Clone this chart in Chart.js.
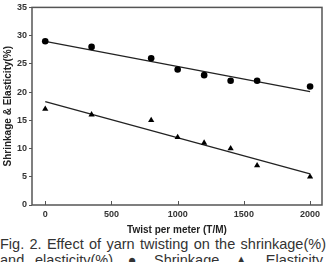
<!DOCTYPE html>
<html>
<head>
<meta charset="utf-8">
<script src="https://cdn.jsdelivr.net/npm/chart.js@4"></script>
<style>
    html, body { margin: 0; padding: 0; background: #fff; overflow: hidden; }
    #wrap { position: relative; width: 326px; height: 238px; }
    .cap {
        width: 326px;
        font-family: 'Liberation Sans', Arial, sans-serif;
        font-size: 14.5px;
        color: #333;
        line-height: 16px;
        text-align: justify;
        text-align-last: justify;
        white-space: nowrap;
    }
</style>
</head>
<body>
<div id="wrap"><canvas id="chart" width="326" height="238"></canvas></div>
<div class="cap" style="margin-top:-2px">Fig.&nbsp;2. Effect of yarn twisting on the shrinkage(%)</div>
<div class="cap">and elasticity(%). &#9679; Shrinkage, &#9650; Elasticity.</div>
<script>
// dane
var twist = [0, 350, 800, 1000, 1200, 1400, 1600, 2000];
var shrinkage = [29, 28, 26, 24, 23, 22, 22, 21];
var elasticity = [17, 16, 15, 12, 11, 10, 7, 5];
// linie trendu (końce)
var fitX = [0, 2000];
var shrinkFit = [29, 20.1];
var elastFit = [18.3, 5.5];
var xTicks = [0, 500, 1000, 1500, 2000];
var yTicks = [0, 5, 10, 15, 20, 25, 30, 35];

function pts(xs, ys) {
    var out = [];
    for (var i = 0; i < xs.length; i++) {
        out.push({ x: xs[i], y: ys[i] });
    }
    return out;
}

var frame = {
    id: 'frame',
    afterDatasetsDraw: function (chart) {
        var a = chart.chartArea;
        var ctx = chart.ctx;
        var xs = chart.scales.x;
        ctx.save();
        ctx.strokeStyle = '#555';
        ctx.lineWidth = 1.5;
        ctx.strokeRect(a.left, a.top, a.right - a.left, a.bottom - a.top);
        ctx.lineWidth = 1;
        ctx.beginPath();
        xTicks.forEach(function (v) {
            var px = Math.round(xs.getPixelForValue(v)) + 0.5;
            ctx.moveTo(px, a.bottom);
            ctx.lineTo(px, a.bottom - 4);
        });
        ctx.stroke();
        ctx.restore();
    }
};

var FAM = "'Liberation Sans', Arial, sans-serif";
var tickFont = { family: FAM, size: 9, weight: 'bold' };
var titleFont = { family: FAM, size: 10, weight: 'bold' };

new Chart(document.getElementById('chart').getContext('2d'), {
    type: 'scatter',
    data: {
        datasets: [
            {
                label: 'Shrinkage',
                data: pts(twist, shrinkage),
                pointStyle: 'circle',
                pointRadius: 3.3,
                backgroundColor: '#000',
                borderColor: '#000',
                borderWidth: 0
            },
            {
                label: 'Elasticity',
                data: pts(twist, elasticity),
                pointStyle: 'triangle',
                pointRadius: 3.6,
                backgroundColor: '#000',
                borderColor: '#000',
                borderWidth: 0
            },
            {
                type: 'line',
                data: pts(fitX, shrinkFit),
                borderColor: '#222',
                borderWidth: 1.3,
                pointRadius: 0,
                fill: false
            },
            {
                type: 'line',
                data: pts(fitX, elastFit),
                borderColor: '#222',
                borderWidth: 1.3,
                pointRadius: 0,
                fill: false
            }
        ]
    },
    options: {
        responsive: false,
        animation: false,
        layout: { padding: { left: 0, right: 3, top: 6, bottom: 0 } },
        plugins: {
            legend: { display: false },
            tooltip: { enabled: false }
        },
        scales: {
            x: {
                type: 'linear',
                min: -100,
                max: 2090,
                afterBuildTicks: function (s) {
                    s.ticks = xTicks.map(function (v) { return { value: v }; });
                },
                afterFit: function (s) { s.height = 33; },
                border: { display: false },
                grid: { display: false, drawTicks: false },
                ticks: {
                    color: '#333',
                    font: tickFont,
                    padding: 4,
                    maxRotation: 0,
                    callback: function (v) { return String(v); }
                },
                title: {
                    display: true,
                    text: 'Twist per meter (T/M)',
                    color: '#222',
                    font: titleFont,
                    padding: { top: 3, bottom: 2 }
                }
            },
            y: {
                min: 0,
                max: 35,
                afterBuildTicks: function (s) {
                    s.ticks = yTicks.map(function (v) { return { value: v }; });
                },
                afterFit: function (s) { s.width = 32; },
                border: { display: false },
                grid: {
                    drawOnChartArea: false,
                    drawTicks: true,
                    tickLength: 3,
                    color: '#555'
                },
                ticks: {
                    color: '#333',
                    font: tickFont,
                    padding: 2,
                    callback: function (v) { return String(v); }
                },
                title: {
                    display: true,
                    text: 'Shrinkage & Elasticity(%)',
                    color: '#222',
                    font: titleFont,
                    padding: { top: 2, bottom: 2 }
                }
            }
        }
    },
    plugins: [frame]
});
</script>
</body>
</html>
